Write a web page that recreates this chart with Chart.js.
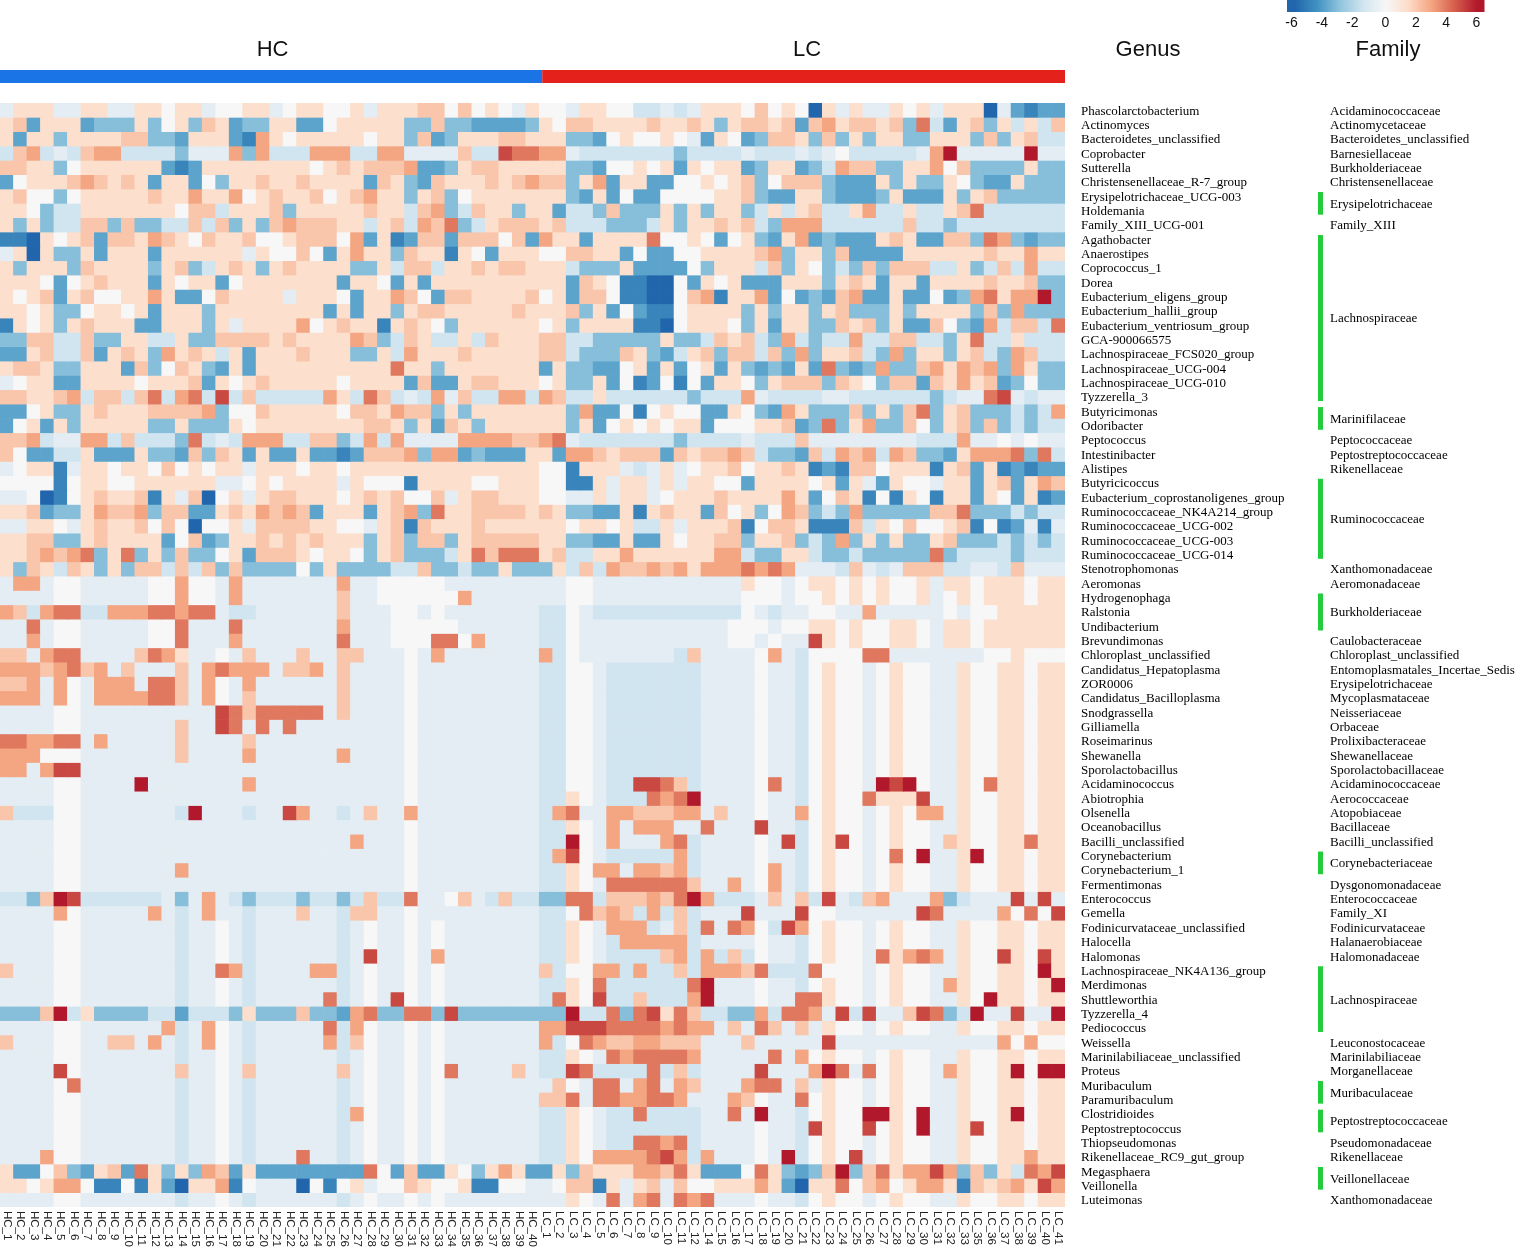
<!DOCTYPE html>
<html>
<head>
<meta charset="utf-8">
<title>Genus heatmap HC vs LC</title>
<script src="https://cdn.jsdelivr.net/npm/chart.js@4.4.1/dist/chart.umd.min.js"></script>
<style>
  html, body { margin: 0; padding: 0; background: #fff; }
  canvas { display: block; }
</style>
</head>
<body>
<canvas id="heat" width="1535" height="1250"></canvas>
<script>
// sample columns (LC_13 and LC_34 are missing in the source)
const hcSamples = ["HC_1","HC_2","HC_3","HC_4","HC_5","HC_6","HC_7","HC_8","HC_9","HC_10",
  "HC_11","HC_12","HC_13","HC_14","HC_15","HC_16","HC_17","HC_18","HC_19","HC_20",
  "HC_21","HC_22","HC_23","HC_24","HC_25","HC_26","HC_27","HC_28","HC_29","HC_30",
  "HC_31","HC_32","HC_33","HC_34","HC_35","HC_36","HC_37","HC_38","HC_39","HC_40"];
const lcSamples = ["LC_1","LC_2","LC_3","LC_4","LC_5","LC_6","LC_7","LC_8","LC_9","LC_10",
  "LC_11","LC_12","LC_14","LC_15","LC_16","LC_17","LC_18","LC_19","LC_20","LC_21",
  "LC_22","LC_23","LC_24","LC_25","LC_26","LC_27","LC_28","LC_29","LC_30","LC_31",
  "LC_32","LC_33","LC_35","LC_36","LC_37","LC_38","LC_39","LC_40","LC_41"];

const genus = ["Phascolarctobacterium","Actinomyces","Bacteroidetes_unclassified","Coprobacter","Sutterella",
  "Christensenellaceae_R-7_group","Erysipelotrichaceae_UCG-003","Holdemania","Family_XIII_UCG-001","Agathobacter",
  "Anaerostipes","Coprococcus_1","Dorea","Eubacterium_eligens_group","Eubacterium_hallii_group",
  "Eubacterium_ventriosum_group","GCA-900066575","Lachnospiraceae_FCS020_group","Lachnospiraceae_UCG-004","Lachnospiraceae_UCG-010",
  "Tyzzerella_3","Butyricimonas","Odoribacter","Peptococcus","Intestinibacter",
  "Alistipes","Butyricicoccus","Eubacterium_coprostanoligenes_group","Ruminococcaceae_NK4A214_group","Ruminococcaceae_UCG-002",
  "Ruminococcaceae_UCG-003","Ruminococcaceae_UCG-014","Stenotrophomonas","Aeromonas","Hydrogenophaga",
  "Ralstonia","Undibacterium","Brevundimonas","Chloroplast_unclassified","Candidatus_Hepatoplasma",
  "ZOR0006","Candidatus_Bacilloplasma","Snodgrassella","Gilliamella","Roseimarinus",
  "Shewanella","Sporolactobacillus","Acidaminococcus","Abiotrophia","Olsenella",
  "Oceanobacillus","Bacilli_unclassified","Corynebacterium","Corynebacterium_1","Fermentimonas",
  "Enterococcus","Gemella","Fodinicurvataceae_unclassified","Halocella","Halomonas",
  "Lachnospiraceae_NK4A136_group","Merdimonas","Shuttleworthia","Tyzzerella_4","Pediococcus",
  "Weissella","Marinilabiliaceae_unclassified","Proteus","Muribaculum","Paramuribaculum",
  "Clostridioides","Peptostreptococcus","Thiopseudomonas","Rikenellaceae_RC9_gut_group","Megasphaera",
  "Veillonella","Luteimonas"];

// family label and how many genus rows it covers
const familyNames = ["Acidaminococcaceae","Actinomycetaceae","Bacteroidetes_unclassified","Barnesiellaceae","Burkholderiaceae",
  "Christensenellaceae","Erysipelotrichaceae","Family_XIII","Lachnospiraceae","Marinifilaceae",
  "Peptococcaceae","Peptostreptococcaceae","Rikenellaceae","Ruminococcaceae","Xanthomonadaceae",
  "Aeromonadaceae","Burkholderiaceae","Caulobacteraceae","Chloroplast_unclassified","Entomoplasmatales_Incertae_Sedis",
  "Erysipelotrichaceae","Mycoplasmataceae","Neisseriaceae","Orbaceae","Prolixibacteraceae",
  "Shewanellaceae","Sporolactobacillaceae","Acidaminococcaceae","Aerococcaceae","Atopobiaceae",
  "Bacillaceae","Bacilli_unclassified","Corynebacteriaceae","Dysgonomonadaceae","Enterococcaceae",
  "Family_XI","Fodinicurvataceae","Halanaerobiaceae","Halomonadaceae","Lachnospiraceae",
  "Leuconostocaceae","Marinilabiliaceae","Morganellaceae","Muribaculaceae","Peptostreptococcaceae",
  "Pseudomonadaceae","Rikenellaceae","Veillonellaceae","Xanthomonadaceae"];
const familySpan = [1,1,1,1,1, 1,2,1,12,2, 1,1,1,6,1, 1,3,1,1,1, 1,1,1,1,1, 1,1,1,1,1,
  1,1,2,1,1, 1,1,1,1,5, 1,1,1,2,2, 1,1,2,1];

// scaled abundance on a 13-step scale (one letter per cell)
const codeValue = { a: -6, b: -5, c: -4, d: -3.2, e: -1.5, f: -0.8, g: 0, h: 1.3, i: 2.1, j: 3, k: 4, l: 5, m: 6 };

const hcCodes = [
  "fhhhffhhff hhghhfgghh fghhgghfhh hiigighgfh",
  "hichhhcddd hdghdihcdd hhccghhhhh ddiddccccd",
  "hchhdhhhhi iddchhhcbj hghhhhhghh dicdhhhiih",
  "eijefeijje eeedfffjdj eeejjjeejj ffffieelkk",
  "iihhdghhhh hhcbchhhhh hhhghihiii jccdhiihhh",
  "cghhhijihi hchhcgdhhi hhihhhhcih dcihhhihij",
  "higgdghhhh hihhjhhjgh ihhighijhh dhidghhhhh",
  "hhgdeehhhh hhhgiiehhh idhhhhhihh eijdeihhdh",
  "hdhdeeiidi ddeeieidhd ijiiihhehi ejikdehiii",
  "bbahghicii hjihgihhig ghiiigjchb ciiciiigic",
  "fhahddhchh hchhhhhhfh ggigchjhhd ihhbhgchhh",
  "hdhhhdihhh hdhidehihd hihhhhddhe iiehhihiih",
  "hhhgcghihh hchghhcghh hhhhhchhgc hchhhhhhhh",
  "hghichiggh hjhccgihhh hfhhhgchhj igciihhhhi",
  "hhghddghhg hchhhdhhhh hhhhchchhd hiihhhhhih",
  "bhghdhihhh cchhhdhfhh hhjghihhbh ihgdhhhhhh",
  "ddiieeiddh heehddiiii hihhhhjide iheeheihhh",
  "cchieeichi hdjhihehch hhihhhddhe jhhhihhhhh",
  "hiihddhhhc idgihdchch hhhhhhhhhk hhdhhhhhhh",
  "fghhcchhhh ghhhichghi hhhhhghhhh cicchiihhh",
  "iihhijeiie ikejkeleie eeeejhekie fejfieejje",
  "ccghddhihh hiiiijdggi hhhhhgiihj iidhdhhhhh",
  "cghchdhhhh hddhdddhgh hhhhhhhiih dhcihdhhhh",
  "iijeffjjei eeedkefejj jeeiidejej ffffjjjjii",
  "igcceehccc hddcidihch cchccbciii jdjjcdccch",
  "fghhbfhhgh hgighghhfh hhghhghhhh hhhhhhhhhh",
  "ggggbghhgg hhhhhhffgh ghhhhfhggg bhhhhgghhh",
  "ffgabghihh ibhfiaghfh iihhhghihi ggifhiihhh",
  "hhicddhjii jdiicchihj ijichhhchi jdkhhiiiih",
  "ffhhgfhihh igigagghfi iiihhggfhi bihhhihhhh",
  "hhiiddhihh hhcgicdhhi hihihhhdhi diidhiiiii",
  "hhijijkdhk dhdiddghci iihghhgdhi dddehkikkk",
  "hdiheihdhd iieieididd ddgdhdddde eiddeddhdd",
  "fjjfggffff fggjggfjff fffffjffgg gggfffffff",
  "ffffggffff fggjggfjff fffffiffgg ggggjfffff",
  "jiejkkeejj jkkjkkfeef fffffifffg gfgfffffff",
  "ffkfggffff fggkfffkff fffffjfffg ggggffffff",
  "ffjfggffff fggkfffjff fffffkfffg ggkkgjffff",
  "iifjkkffff ikjhffgfif ffiffiifff gfjfffffff",
  "jjjijkijfi fffifjkjjj fiijfiffff gfffffffff",
  "iijfjgfjjj fkkifjgfjf fffffiffff gfffffffff",
  "jjjfjgfjjj jkkifjgfif fffffiffff gfffffffff",
  "ffffggffff fffffflkik kkkkfiffff gfffffffff",
  "ffffggffff fffifflkfk fkffffffff gfffffffff",
  "kkjjkkfjff fffiffffif ffffffffff gfffffffff",
  "jjjgggffff fffiffffjf fffffjffff gfffffffff",
  "jjfjllffff ffffffffff ffffffffff gfffffffff",
  "ffffggffff mfffffffjf ffffffffff gfffffffff",
  "ffffggffff ffffffffff ffffffffff gfffffffff",
  "ieeeggffff fffemfffef fljffefiff jfffffffff",
  "ffffggffff ffffffffff ffffffffff gfffffffff",
  "ffffggffff ffffffffff ffffffjfff gfffffffff",
  "ffffggffff ffffffffff ffffffffff gfffffffff",
  "ffffggffff fffjffffff ffffffffff gfffffffff",
  "ffffggffff ffffffffff ffffffffff gfffffffff",
  "eedimleeee eefdfjfede eedeedeiee kffgifeiee",
  "ffffjgffff fjfefjffef ffiffeiiff gfffffffff",
  "ffffggffff fffeffgfef fffffefgff gfgfffffff",
  "ffffggffff fffeffgfef fffffefgff gfgfffffff",
  "ffffggffff fffeffgfef fffffeflff gfjfffffff",
  "ifffggffff fffeffkjef fffjjefgff gfgfffffff",
  "ffffggffff fffeffgfef fffffefgff gfgfffffff",
  "ffffggffff fffeffgfef ffffkefgfl gfgfffffff",
  "dddimehddd deeceeedhd ddiddcjkdd kkdldddddd",
  "ffffggffff ffjefjgfef ffffkejgff gfgfffffff",
  "ifffggffii fjfefjgfef ffffjeigff gfgfffffff",
  "ffffggffff fffeffgfef fffffefgff gfgfffffff",
  "fffflgffff fffiffgfif fffffifgff gfgkffffif",
  "ffffgkffff fffeffgfef fffffefgff gfgfffffff",
  "ffffggffff fffeffgfef fffffefgff gfgfffffff",
  "ffffggffff fffeffgfef fffffejgff gfgfffffff",
  "ffffggffff fffeffgfef fffffefgff gfgfffffff",
  "ffffggffff fffeffgfef fffffefgff gfgfffffff",
  "fffjggffff fffeffgfef ffkffefgff gfgfffffff",
  "hccgidchic khdhdjichc ccccccckgc icchgdhjhc",
  "hhghjjgbbg bhcahhjbgf ffagbghfgg ihgghbbggf",
  "ffffggffff fffeffgfef fffffefgff gfgfffffff"
];

const lcCodes = [
  "ggfhhggeef efhhhgighg ahfhffhghf hhhafcbcc",
  "hgiihhhhih hihdhiihic ijhiihidke chidhehei",
  "hhddcghggh gfchgcdiih didhdhhddh hhdidhiee",
  "jjfeeeeeee deeeefeeef efgeeeeefj mfffffmff",
  "hhddcgghgh chghhcdhhc dejiiddhhj giddddhdd",
  "iidhjchhcc gghghidgii idccchdhdd hgdcchddd",
  "hhdchcgccg ggghhidcch hdcccdhccc hdhiddddd",
  "hceedidddh dhdhhdeheh ieehjeehee hikeeeeee",
  "hieeedddeh dhhihiedjj jeeeeeeiee deeeeeeee",
  "jhhchhhhkg ghgcghdchj cdccchihcc iidkjdcdd",
  "ggiihhcgcc gghhhhijdh hdicccchhh hhhihhjhh",
  "hhedddhccc cgdhhheidh gdedidiiie ehdeiejee",
  "hhcihgbbaa gchghccchh hdhihchhch hhhihhidd",
  "ghciigbbaa gijbhhjcgc dcijcchccg cdjkhjjmd",
  "hhidhcgcbb ghhhhdhdhh dhidddhdhh hhdidjddd",
  "ghdhhhhbba ghhhgdhchh ddihidhcci gdcjeiiek",
  "iieedddddh ddeihiedje deejeeiiee dhkeeheee",
  "iiedddihdc ehidiieidj dhhiedjdhh dhiedjiee",
  "chddccghch cghchdcdch ckdcdjddij hjijdjhdd",
  "ghddhcgbcg bgchhgdhii idihgdiici hjhicdgdd",
  "jieeheeeee edeeejfeee effeeeeeed effklfeff",
  "hhdjccgbgh ggcchgdcjh dddidhdikd hidddedej",
  "hhdhcghghg hhcggghhic dkdhjddigd hididedee",
  "jkfeeeeeee deeeefeeei ffffffffee ejffgfgff",
  "hcjjihiiic ihiijieddc iejijejidd chjjjkdke",
  "ggbhhhfefh fghhighhih bcbiighhhb hichbcbcc",
  "ggbbhfhhfh fhhggchhhh ghchfchggf hhchichji",
  "ggffhfhhfg hhhihhhhjh cgihbgbhgb hhchgchbc",
  "ihddcchbhi hhcighdgji dedjdddddi ikdddedee",
  "hhghhgheeh fhhhibgiih bbbiehgigg hibgbcfbf",
  "hhddcchcch ghhiidhhid edjdhdhddh idddedede",
  "hieehhjhhh hhhjjeddhh eddedddddk deeeedeee",
  "dheiejiiji jhjjjkjkjf ffeifefiii eeffeifff",
  "ffggffffff fffffhggfg hhghghgghf hhghhhghh",
  "ffggffffff fffffgggfg ghghghgghf ghghhhghh",
  "eegfeeeeee eeeeegfeff ggffjfffff gfgghhhhh",
  "eegfffffff ffffgggfgg hhghgghhgf hhghhhhhh",
  "eegfffffff ffffggfgff lhghgghhgf hhghhhhhh",
  "jegfffffff eiffffgjfe ggggkkffff fffgghggg",
  "eeggfeeeee eeffffgffe ghggfghggf fhgghhghh",
  "eeggfeeeee eeffffgffe ghggfghggf fhgghhghh",
  "eeggfeeeee eeffffgffe ghggfghggf fhgghhghh",
  "eeggfeeeee eeffffgffe ghggfghggf fhgghhghh",
  "eeggfeeeee eeffffgffe ghggfghggf fhgghhghh",
  "eeggfeeeee eeffffgffe ghggfghggf fhgghhghh",
  "eeggfeeeee eeffffgffe ghggfghggf fhgghhghh",
  "eeggfeeeee eeffffgffe ghggfghggf fhgghhghh",
  "eeggfeellk ieffffgkfe ghggfmlmgf fhgkhhghh",
  "eehgfeeekj kmffffgffe ghggkhhhlf fhgghhghh",
  "ejkffjjiii jjfiffgffj ghggfghgjj fhgghhghh",
  "eehgfjfjjj ffkffflffe ghggfghggf fhgghhghh",
  "eemgfjfffj keffffgfle ghlgfghggf ihgghhkhh",
  "ejlgfeeeee jeffffgffe ghggfgkgmf fhmghhghh",
  "eehgjjfjji jeffffgjfe ghggfghggf fhgghhghh",
  "eehgfkkkkk kiffjfgjfe ghggfghggf fhgghhghh",
  "ddkkeiiiji kmjeeefifi elfeijfffj deffflflf",
  "eegkijieje ieffflfffl ggfffffflk ffffjgkgl",
  "eehgfjjjef iekfkjgelj ghggfghggf fhgghhghh",
  "eehgfejjjj jeffffgffe ghggfghggf fhgghhghh",
  "eehgfeeeei jejeiegffe ghggfkhjkj fhgglhglh",
  "ieggjjejee iejjjikeee kgggfghggf fhgghhgmh",
  "eehgkeeeee ekmfffgffe ghggfghggf jhgghhghm",
  "ekhgleeiee ejmfffgffk khggfghggf fhgmhhghh",
  "ddmeekdklh kieeddjekk jflelffilk demfflffm",
  "jjlllkkkkj kjjfifkifi fhggfghggf fhgghhghh",
  "jegkjiijji iifffiffff flffffffff ffffjgjgg",
  "eehgfkjkkk kjfffffkfj ghggfghggf fhgghhghh",
  "eelkeeeeke iefffflfff jmkfkghggf jhgghmgmm",
  "figfkkfjkf jifffjkkfi fhggfghggf fhgghhghh",
  "iikfkkjjkk jfffjigffk ghggfghggf fhgghhghh",
  "eehgfeekee eeffkfmffe ghggmmhgmf fhgghmghh",
  "eehgfeeeee eeffffgffe lhgglghgmf fhlghhghh",
  "eehgfeekkj keffffgffe ghggfghggf fhgghhghh",
  "eehgjjjjkl jejfffgfme ghglfghggf fhgghhjhh",
  "chdihhhjji khcccgkhdc dimdikhjjl jdidhekjl",
  "fgiibhfhif igghhhjhca hhkgijghjj hbihijhlj",
  "ffhgfkfjkf kjkfffgffe ghggfghggf fhgghhghh"
];

// RdBu style ramp, -6 .. 6
const rampStops = [-6, -4.5, -3, -1.5, 0, 1.5, 3, 4.5, 6];
const rampColors = [[33,102,172],[67,147,195],[146,197,222],[209,229,240],[247,247,247],
  [253,219,199],[244,165,130],[214,96,77],[178,24,43]];

function heatColor(v) {
  if (v <= rampStops[0]) return "rgb(" + rampColors[0].join(",") + ")";
  for (let i = 1; i < rampStops.length; i++) {
    if (v <= rampStops[i]) {
      const t = (v - rampStops[i - 1]) / (rampStops[i] - rampStops[i - 1]);
      const a = rampColors[i - 1], b = rampColors[i];
      const c = a.map((x, k) => Math.round(x + (b[k] - x) * t));
      return "rgb(" + c.join(",") + ")";
    }
  }
  return "rgb(" + rampColors[rampColors.length - 1].join(",") + ")";
}

const samples = hcSamples.concat(lcSamples);
const nRows = genus.length;

const values = genus.map((g, r) => {
  const codes = (hcCodes[r] + lcCodes[r]).replace(/ /g, "").split("");
  return samples.map((s, c) => codeValue[codes[c]] ?? 0);
});

// one floating-bar dataset per genus row; each bar spans one row on the y scale
const datasets = values.map((rowVals, r) => ({
  label: genus[r],
  data: rowVals.map(() => [r, r + 1]),
  backgroundColor: rowVals.map(heatColor),
  borderWidth: 0,
  grouped: false,
  barPercentage: 1,
  categoryPercentage: 1
}));

const SANS = "'Liberation Sans', Arial, sans-serif";
const SERIF = "'Liberation Serif', 'Times New Roman', serif";

const decorations = {
  id: "decorations",
  afterDraw(chart) {
    const ctx = chart.ctx;
    const area = chart.chartArea;
    const xs = chart.scales.x;
    const ys = chart.scales.y;
    const colW = xs.getPixelForValue(1) - xs.getPixelForValue(0);
    const hcLeft = xs.getPixelForValue(0) - colW / 2;
    const hcRight = xs.getPixelForValue(hcSamples.length - 1) + colW / 2;
    const lcRight = xs.getPixelForValue(samples.length - 1) + colW / 2;
    ctx.save();

    // group titles and colour strips
    ctx.fillStyle = "#111";
    ctx.font = "22px " + SANS;
    ctx.textAlign = "center";
    ctx.textBaseline = "middle";
    ctx.fillText("HC", (hcLeft + hcRight) / 2 + 3, 50);
    ctx.fillText("LC", (hcRight + lcRight) / 2 + 5, 50);
    ctx.fillText("Genus", 1148, 50);
    ctx.fillText("Family", 1388, 50);
    ctx.fillStyle = "#1a74e6";
    ctx.fillRect(hcLeft, 70, hcRight - hcLeft + 3, 13);
    ctx.fillStyle = "#e5211c";
    ctx.fillRect(hcRight + 3, 70, lcRight - hcRight - 3, 13);

    // sample labels, turned to read downward
    ctx.fillStyle = "#222";
    ctx.font = "11.5px " + SANS;
    ctx.textAlign = "left";
    ctx.textBaseline = "middle";
    samples.forEach((s, i) => {
      const x = xs.getPixelForValue(i);
      ctx.save();
      ctx.translate(x, area.bottom + 4);
      ctx.rotate(Math.PI / 2);
      ctx.fillText(s, 0, 0);
      ctx.restore();
    });

    // genus labels
    ctx.fillStyle = "#000";
    ctx.font = "13px " + SERIF;
    genus.forEach((g, r) => {
      ctx.fillText(g, area.right + 16, ys.getPixelForValue(r + 0.5) + 1);
    });

    // family labels with green brackets for multi-row families
    let start = 0;
    familyNames.forEach((f, k) => {
      const span = familySpan[k];
      const top = ys.getPixelForValue(start);
      const bottom = ys.getPixelForValue(start + span);
      if (span > 1) {
        ctx.fillStyle = "#22cc3a";
        ctx.fillRect(1318, top + 3, 5, bottom - top - 6);
      }
      ctx.fillStyle = "#000";
      ctx.fillText(f, 1330, (top + bottom) / 2 + 1);
      start += span;
    });

    // colour key
    const keyLeft = 1287, keyRight = 1484, keyLo = -6.5, keyHi = 6.5;
    for (let px = keyLeft; px < keyRight; px++) {
      const v = keyLo + (px - keyLeft) / (keyRight - keyLeft) * (keyHi - keyLo);
      ctx.fillStyle = heatColor(v);
      ctx.fillRect(px, 0, 1.5, 12);
    }
    ctx.fillStyle = "#111";
    ctx.font = "14px " + SANS;
    ctx.textAlign = "center";
    [-6, -4, -2, 0, 2, 4, 6].forEach(t => {
      const x = keyLeft + (t - keyLo) / (keyHi - keyLo) * (keyRight - keyLeft);
      ctx.fillText(String(t), t < 0 ? x - 3 : x, 23);
    });
    ctx.restore();
  }
};

new Chart(document.getElementById("heat"), {
  type: "bar",
  data: { labels: samples, datasets: datasets },
  options: {
    responsive: false,
    animation: false,
    layout: { padding: { left: 0, top: 103, right: 470, bottom: 43 } },
    plugins: { legend: { display: false }, tooltip: { enabled: false } },
    scales: {
      x: { display: false, grid: { display: false } },
      y: { display: false, min: 0, max: nRows, reverse: true, grid: { display: false } }
    }
  },
  plugins: [decorations]
});
</script>
</body>
</html>
